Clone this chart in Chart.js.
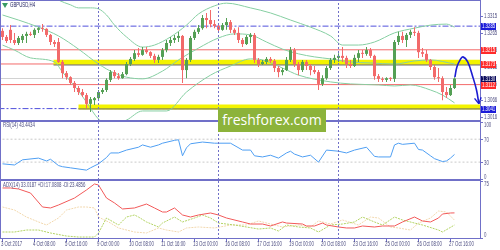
<!DOCTYPE html>
<html>
<head>
<meta charset="utf-8">
<title>GBPUSD,H4</title>
<script src="https://cdn.jsdelivr.net/npm/chart.js@4.4.1/dist/chart.umd.min.js"></script>
<style>
  html, body { margin: 0; padding: 0; background: #fff; }
  #wrap { position: relative; width: 500px; height: 250px; overflow: hidden; background: #fff; }
  canvas { position: absolute; left: 0; }
  #cPrice { top: 0; }
  #cRsi { top: 121px; }
  #cAdx { top: 180px; }
  #logo {
    position: absolute; left: 218px; top: 108px; width: 108px; height: 24px;
    background: #8cb33b; color: #fff; font: 14px "Open Sans", sans-serif;
    line-height: 24px; text-align: center;
  }
</style>
</head>
<body>
<div id="wrap">
  <canvas id="cPrice" width="500" height="121"></canvas>
  <canvas id="cRsi" width="500" height="59"></canvas>
  <canvas id="cAdx" width="500" height="70"></canvas>
  <div id="logo">freshforex.com</div>
</div>
<script>
"use strict";

// H4 candles, bar 0 = 3 Oct 2017 00:00 ... bar 113 = 27 Oct 20:00
const OPEN = [
  1.3271, 1.3253, 1.3274, 1.3244, 1.3235, 1.3244, 1.3256, 1.3262, 1.3259, 1.3274,
  1.3279, 1.3277, 1.3259, 1.3238, 1.3238, 1.3179, 1.3146, 1.3134, 1.3117, 1.3102,
  1.3090, 1.3081, 1.3055, 1.3066, 1.3072, 1.3090, 1.3096, 1.3126, 1.3149, 1.3137,
  1.3131, 1.3143, 1.3173, 1.3188, 1.3205, 1.3200, 1.3214, 1.3208, 1.3197, 1.3185,
  1.3194, 1.3214, 1.3235, 1.3244, 1.3250, 1.3256, 1.3155, 1.3185, 1.3250, 1.3268,
  1.3279, 1.3309, 1.3303, 1.3291, 1.3285, 1.3274, 1.3288, 1.3297, 1.3274, 1.3265,
  1.3244, 1.3232, 1.3253, 1.3259, 1.3185, 1.3173, 1.3179, 1.3188, 1.3182, 1.3161,
  1.3149, 1.3155, 1.3185, 1.3214, 1.3173, 1.3155, 1.3179, 1.3167, 1.3155, 1.3149,
  1.3114, 1.3131, 1.3161, 1.3185, 1.3191, 1.3197, 1.3191, 1.3173, 1.3167, 1.3191,
  1.3205, 1.3203, 1.3214, 1.3197, 1.3137, 1.3129, 1.3126, 1.3131, 1.3129, 1.3238,
  1.3256, 1.3244, 1.3259, 1.3268, 1.3265, 1.3208, 1.3203, 1.3185, 1.3164, 1.3134,
  1.3131, 1.3090, 1.3081, 1.3102,
];
const HIGH = [
  1.3279, 1.3259, 1.3288, 1.3265, 1.3256, 1.3262, 1.3268, 1.3268, 1.3279, 1.3282,
  1.3291, 1.3279, 1.3262, 1.3244, 1.3250, 1.3185, 1.3152, 1.3137, 1.3123, 1.3108,
  1.3099, 1.3087, 1.3075, 1.3075, 1.3096, 1.3102, 1.3131, 1.3155, 1.3155, 1.3146,
  1.3149, 1.3179, 1.3194, 1.3214, 1.3220, 1.3223, 1.3223, 1.3211, 1.3203, 1.3200,
  1.3220, 1.3244, 1.3253, 1.3259, 1.3268, 1.3259, 1.3191, 1.3256, 1.3274, 1.3288,
  1.3318, 1.3324, 1.3333, 1.3303, 1.3294, 1.3294, 1.3309, 1.3303, 1.3279, 1.3282,
  1.3250, 1.3259, 1.3265, 1.3265, 1.3191, 1.3185, 1.3194, 1.3194, 1.3188, 1.3167,
  1.3161, 1.3194, 1.3223, 1.3220, 1.3179, 1.3185, 1.3185, 1.3173, 1.3167, 1.3155,
  1.3140, 1.3167, 1.3191, 1.3200, 1.3205, 1.3223, 1.3197, 1.3185, 1.3200, 1.3214,
  1.3214, 1.3223, 1.3220, 1.3200, 1.3143, 1.3134, 1.3134, 1.3134, 1.3244, 1.3268,
  1.3268, 1.3265, 1.3274, 1.3282, 1.3271, 1.3220, 1.3214, 1.3188, 1.3170, 1.3161,
  1.3137, 1.3105, 1.3111, 1.3134,
];
const LOW = [
  1.3244, 1.3235, 1.3235, 1.3229, 1.3229, 1.3235, 1.3235, 1.3256, 1.3250, 1.3265,
  1.3268, 1.3253, 1.3229, 1.3223, 1.3176, 1.3131, 1.3126, 1.3111, 1.3090, 1.3081,
  1.3075, 1.3043, 1.3031, 1.3052, 1.3069, 1.3084, 1.3090, 1.3120, 1.3131, 1.3126,
  1.3129, 1.3140, 1.3167, 1.3182, 1.3194, 1.3197, 1.3203, 1.3191, 1.3176, 1.3176,
  1.3185, 1.3208, 1.3226, 1.3235, 1.3238, 1.3117, 1.3131, 1.3179, 1.3244, 1.3262,
  1.3274, 1.3279, 1.3282, 1.3279, 1.3268, 1.3271, 1.3274, 1.3265, 1.3259, 1.3235,
  1.3223, 1.3229, 1.3235, 1.3176, 1.3164, 1.3170, 1.3173, 1.3176, 1.3149, 1.3134,
  1.3140, 1.3152, 1.3179, 1.3164, 1.3140, 1.3149, 1.3155, 1.3140, 1.3143, 1.3096,
  1.3108, 1.3126, 1.3155, 1.3176, 1.3179, 1.3179, 1.3161, 1.3161, 1.3164, 1.3179,
  1.3191, 1.3197, 1.3191, 1.3126, 1.3120, 1.3120, 1.3120, 1.3123, 1.3120, 1.3229,
  1.3235, 1.3223, 1.3250, 1.3256, 1.3191, 1.3194, 1.3179, 1.3155, 1.3126, 1.3120,
  1.3066, 1.3072, 1.3078, 1.3099,
];
const CLOSE = [
  1.3253, 1.3241, 1.3244, 1.3235, 1.3250, 1.3256, 1.3262, 1.3259, 1.3274, 1.3279,
  1.3277, 1.3259, 1.3238, 1.3232, 1.3179, 1.3146, 1.3134, 1.3117, 1.3102, 1.3090,
  1.3081, 1.3055, 1.3069, 1.3072, 1.3090, 1.3096, 1.3126, 1.3149, 1.3137, 1.3131,
  1.3143, 1.3173, 1.3188, 1.3205, 1.3200, 1.3214, 1.3208, 1.3197, 1.3185, 1.3194,
  1.3214, 1.3235, 1.3244, 1.3250, 1.3256, 1.3155, 1.3185, 1.3250, 1.3268, 1.3279,
  1.3309, 1.3303, 1.3291, 1.3285, 1.3274, 1.3288, 1.3297, 1.3274, 1.3265, 1.3244,
  1.3232, 1.3253, 1.3259, 1.3185, 1.3173, 1.3179, 1.3188, 1.3182, 1.3161, 1.3149,
  1.3155, 1.3185, 1.3214, 1.3173, 1.3155, 1.3179, 1.3167, 1.3155, 1.3149, 1.3114,
  1.3131, 1.3161, 1.3185, 1.3191, 1.3197, 1.3191, 1.3173, 1.3167, 1.3191, 1.3205,
  1.3203, 1.3214, 1.3197, 1.3137, 1.3129, 1.3126, 1.3131, 1.3129, 1.3238, 1.3256,
  1.3244, 1.3259, 1.3268, 1.3265, 1.3208, 1.3203, 1.3185, 1.3164, 1.3134, 1.3131,
  1.3090, 1.3081, 1.3102, 1.3130,
];

// Bollinger bands, read at selected bars
const BB_UPPER_BARS = [12, 14, 17, 19, 22, 24, 26, 28, 31, 35, 38, 42, 46, 49, 53, 56, 62, 67, 72, 77, 82, 85, 89, 93, 98, 103, 107, 111, 113];
const BB_UPPER = [1.3377, 1.3362, 1.3348, 1.3339, 1.3339, 1.3336, 1.3318, 1.3288, 1.3253, 1.3223, 1.3229, 1.3253, 1.3288, 1.3321, 1.3345, 1.3353, 1.3339, 1.3324, 1.3303, 1.3282, 1.3256, 1.3229, 1.3229, 1.3238, 1.3265, 1.3279, 1.3288, 1.3291, 1.3282];
const BB_MID_BARS = [0, 4, 9, 14, 19, 24, 28, 31, 35, 40, 44, 49, 54, 58, 62, 66, 70, 74, 78, 82, 87, 92, 98, 103, 107, 113];
const BB_MID = [1.3318, 1.3303, 1.3282, 1.3256, 1.3217, 1.3173, 1.3146, 1.3134, 1.3129, 1.3152, 1.3185, 1.3220, 1.3250, 1.3262, 1.3259, 1.3238, 1.3217, 1.3203, 1.3194, 1.3188, 1.3179, 1.3176, 1.3173, 1.3182, 1.3185, 1.3173];
const BB_LOWER_BARS = [0, 3, 7, 13, 15, 19, 21, 24, 27, 31, 35, 41, 46, 52, 57, 62, 65, 70, 74, 82, 87, 94, 98, 102, 107, 110, 113];
const BB_LOWER = [1.3229, 1.3214, 1.3191, 1.3179, 1.3149, 1.3093, 1.3060, 1.3010, 1.2992, 1.3007, 1.3034, 1.3034, 1.3090, 1.3140, 1.3167, 1.3188, 1.3185, 1.3161, 1.3140, 1.3120, 1.3114, 1.3111, 1.3108, 1.3111, 1.3096, 1.3081, 1.3058];

// drawn levels
const RED_LEVELS = [1.3215, 1.3173, 1.3112];
const BLUE_LEVELS = [1.3285, 1.3041];
const BID = 1.3130;
const ZONE_LEVELS = [1.3178, 1.3046];
const ZONE_EDGES = [1.3170, 1.3040];
const ZONE_START_BARS = [12.75, 19];

// forecast arrow
const ARROW_BARS = [113.1, 113.6, 114.4, 115.1, 116.3, 117.6, 118.5, 119.1];
const ARROW_PRICES = [1.3134, 1.3164, 1.3185, 1.3194, 1.3179, 1.3134, 1.3096, 1.3055];

// axes
const PRICE_TICKS = [1.3315, 1.3265, 1.3215, 1.3165, 1.3115, 1.3066, 1.3016];
const PRICE_TAGS = [1.3285, 1.3215, 1.3173, 1.3130, 1.3112, 1.3041];
const WEEK_STARTS = [24, 54, 84];
const TIME_BARS = [0, 8, 16, 24, 32, 40, 48, 56, 64, 72, 80, 88, 96, 104, 112];
const TIME_LABELS = ["3 Oct 2017", "4 Oct 08:00", "5 Oct 16:00", "9 Oct 00:00", "10 Oct 08:00",
  "11 Oct 16:00", "13 Oct 00:00", "16 Oct 08:00", "17 Oct 16:00", "19 Oct 00:00",
  "20 Oct 08:00", "23 Oct 16:00", "25 Oct 00:00", "26 Oct 08:00", "27 Oct 16:00"];

// RSI(14)
const RSI_BARS = [0, 3, 5, 9, 11, 12, 14, 15, 17, 21, 22, 24, 26, 27, 29, 31, 34, 35, 37, 39, 40, 43, 44, 45, 46, 47, 50, 53, 57, 60, 62, 63, 65, 67, 69, 71, 72, 73, 75, 77, 79, 81, 84, 86, 88, 91, 93, 94, 97, 98, 99, 100, 103, 104, 105, 107, 108, 110, 111, 112, 113];
const RSI_VALUES = [27, 25, 34, 37, 32, 35, 24, 22, 20, 16, 20, 27, 38, 46, 46, 51, 56, 60, 56, 60, 63, 68, 69, 41, 55, 62, 65, 63, 63, 51, 51, 41, 39, 42, 37, 46, 49, 44, 39, 42, 30, 51, 49, 46, 51, 56, 40, 39, 39, 60, 63, 61, 63, 52, 51, 41, 36, 31, 32, 37, 43.44];
const RSI_LEVELS = [70, 30];
const RSI_TICKS = [100, 70, 30, 0];

// ADX(14)
const ADX_BARS = [0, 2, 4, 7, 10, 12, 14, 18, 21, 23, 24, 26, 28, 30, 33, 36, 38, 40, 41, 43, 45, 47, 49, 52, 54, 56, 60, 62, 65, 67, 70, 71, 75, 76, 78, 80, 81, 84, 86, 88, 90, 93, 95, 98, 100, 103, 105, 107, 109, 110, 112, 113];
const ADX_VALUES = [65.8, 65.8, 64.5, 59.2, 40.8, 39.5, 43.4, 52.6, 63.2, 71.1, 69.7, 52.6, 46.1, 38.2, 39.5, 44.7, 39.5, 34.2, 34.2, 39.5, 30.3, 27.6, 30.3, 32.9, 30.3, 26.3, 21.1, 18.4, 18.4, 15.8, 21.1, 19.7, 18.4, 15.8, 15.8, 19.7, 17.1, 14.5, 13.2, 13.2, 15.8, 14.5, 15.8, 15.8, 21.1, 27.6, 22.4, 21.1, 26.3, 31.6, 32.9, 33.02];
const PDI_BARS = [0, 3, 6, 9, 12, 16, 19, 23, 24, 26, 29, 31, 33, 34, 36, 39, 40, 43, 45, 48, 50, 52, 54, 58, 61, 64, 67, 69, 71, 74, 77, 79, 82, 85, 88, 90, 93, 95, 98, 100, 103, 105, 109, 110, 113];
const PDI_VALUES = [7.9, 7.9, 10.5, 10.5, 6.6, 2.6, 1.3, 1.3, 6.6, 26.3, 17.1, 27.6, 30.3, 27.6, 21.1, 14.5, 19.7, 27.6, 21.1, 26.3, 30.3, 26.3, 19.7, 17.1, 14.5, 11.8, 13.2, 9.2, 17.1, 14.5, 13.2, 7.9, 17.1, 18.4, 21.1, 27.6, 21.1, 17.1, 27.6, 23.7, 19.7, 17.1, 10.5, 7.9, 17.08];
const MDI_BARS = [0, 3, 6, 9, 11, 14, 16, 19, 21, 23, 24, 27, 29, 33, 36, 39, 41, 44, 46, 49, 53, 57, 61, 64, 68, 70, 74, 77, 79, 82, 85, 89, 92, 94, 97, 99, 102, 104, 107, 109, 111, 113];
const MDI_VALUES = [40.8, 36.8, 27.6, 21.1, 17.1, 26.3, 36.8, 40.8, 40.8, 39.5, 27.6, 19.7, 13.2, 7.9, 6.6, 13.2, 10.5, 7.9, 13.2, 14.5, 13.2, 17.1, 17.1, 22.4, 17.1, 14.5, 17.1, 14.5, 22.4, 18.4, 23.7, 17.1, 27.6, 26.3, 14.5, 13.2, 10.5, 19.7, 26.3, 35.5, 34.2, 23.49];
const ADX_TICKS = [75, 0];

// ---- look
const FRAME = "#7070c8";
const TXT = "#4e4e82";
const BULL = "#55a055";
const BEAR = "#f26a6a";
const BB_COLOR = "#86cfa2";
const RED_LINE = "#f36b6b";
const BLUE_LINE = "#5050dc";
const ZONE_COLOR = "#f3f300";
const ARROW_COLOR = "#1c1cd2";
const TAG_COLORS = ["#1d1dd9", "#ff2b2b", "#ff2b2b", "#0c0c5c", "#ff2b2b", "#1d1dd9"];
const FONT = '7px "Liberation Sans", Arial, sans-serif';
const SQUEEZE = 0.62;

// bar i sits at pixel 2.5 + 4*i
const X_MIN = -0.375, X_MAX = 119.375;
const PRICE_MIN = 1.30043, PRICE_MAX = 1.33623;
const RSI_MIN = -1.22, RSI_MAX = 101.74;
const ADX_MIN = -1.3, ADX_MAX = 76.3;

const pts = (xs, ys) => xs.map((x, i) => ({ x, y: ys[i] }));
const hline = (v, from) => [{ x: from == null ? -1 : from, y: v }, { x: 121, y: v }];

function tiny(ctx, text, x, y, color, align) {
  ctx.save();
  ctx.font = FONT;
  ctx.fillStyle = color;
  ctx.textAlign = align || "left";
  ctx.textBaseline = "middle";
  ctx.translate(x, y);
  ctx.scale(SQUEEZE, 1);
  ctx.fillText(text, 0, 0);
  ctx.restore();
}

function drawFrame(chart) {
  const { ctx, chartArea: a } = chart;
  ctx.save();
  ctx.fillStyle = FRAME;
  ctx.fillRect(0, a.top, a.right + 1, 1);
  ctx.fillRect(0, a.bottom - 1, a.right + 1, 1);
  ctx.fillRect(0, a.top, 1, a.bottom - a.top);
  ctx.fillRect(a.right, a.top, 1, a.bottom - a.top);
  ctx.restore();
}

function sepDataset(lo, hi) {
  return {
    type: "line",
    data: WEEK_STARTS.flatMap((b) => [{ x: b, y: lo }, { x: b, y: hi }, { x: b, y: null }]),
    borderColor: FRAME, borderWidth: 1, borderDash: [2, 2], spanGaps: false,
    pointRadius: 0, order: 1,
  };
}

function lineDataset(data, color, order, extra) {
  return Object.assign({ type: "line", data, borderColor: color, borderWidth: 1, pointRadius: 0, order }, extra || {});
}

function baseOptions(yMin, yMax, padBottom) {
  return {
    responsive: false, animation: false, devicePixelRatio: 1, events: [],
    layout: { padding: { left: 1, right: 20, top: 0, bottom: padBottom } },
    plugins: { legend: { display: false }, tooltip: { enabled: false } },
    elements: { point: { radius: 0 } },
    scales: {
      x: { type: "linear", min: X_MIN, max: X_MAX, display: false, offset: false },
      y: { type: "linear", min: yMin, max: yMax, display: false },
    },
  };
}

// ---- price panel
const candleColors = OPEN.map((o, i) => (CLOSE[i] >= o ? BULL : BEAR));
const priceDatasets = [
  lineDataset(pts(ARROW_BARS, ARROW_PRICES), ARROW_COLOR, 0, { borderWidth: 1.6, tension: 0.4, clip: false }),
  sepDataset(PRICE_MIN, PRICE_MAX),
  {
    type: "bar", data: OPEN.map((o, i) => ({ x: i, y: [o, CLOSE[i]] })),
    backgroundColor: candleColors, barThickness: 3, minBarLength: 1, grouped: false,
    borderWidth: 0, inflateAmount: 0, order: 2,
  },
  {
    type: "bar", data: HIGH.map((h, i) => ({ x: i, y: [LOW[i], h] })),
    backgroundColor: candleColors, barThickness: 1, grouped: false,
    borderWidth: 0, inflateAmount: 0, order: 3,
  },
  lineDataset(pts(BB_UPPER_BARS, BB_UPPER), BB_COLOR, 4, { cubicInterpolationMode: "monotone" }),
  lineDataset(pts(BB_MID_BARS, BB_MID), BB_COLOR, 4, { cubicInterpolationMode: "monotone" }),
  lineDataset(pts(BB_LOWER_BARS, BB_LOWER), BB_COLOR, 4, { cubicInterpolationMode: "monotone" }),
  ...ZONE_EDGES.map((v, i) => lineDataset(hline(v, ZONE_START_BARS[i]), "#6a6a6a", 5)),
  ...ZONE_LEVELS.map((v, i) => lineDataset(hline(v, ZONE_START_BARS[i]), ZONE_COLOR, 6, { borderWidth: 5 })),
  ...BLUE_LEVELS.map((v) => lineDataset(hline(v), BLUE_LINE, 7, { borderDash: [6, 2, 2, 2] })),
  ...RED_LEVELS.map((v) => lineDataset(hline(v), RED_LINE, 8)),
  lineDataset(hline(BID), "#d2d2d2", 9),
];

const pricePanel = {
  id: "pricePanel",
  afterDraw(chart) {
    const { ctx, chartArea: a } = chart;
    const y = chart.scales.y;
    drawFrame(chart);

    // arrow head at the end of the forecast curve
    const arrow = chart.getDatasetMeta(0).data;
    const p1 = arrow[arrow.length - 2], p2 = arrow[arrow.length - 1];
    const ang = Math.atan2(p2.y - p1.y, p2.x - p1.x);
    ctx.save();
    ctx.strokeStyle = ARROW_COLOR;
    ctx.lineWidth = 1.4;
    for (const s of [-1, 1]) {
      ctx.beginPath();
      ctx.moveTo(p2.x, p2.y);
      ctx.lineTo(p2.x - 7 * Math.cos(ang + s * 0.5), p2.y - 7 * Math.sin(ang + s * 0.5));
      ctx.stroke();
    }
    ctx.restore();

    ctx.save();
    ctx.fillStyle = FRAME;
    for (const v of PRICE_TICKS) {
      const py = Math.round(y.getPixelForValue(v));
      ctx.fillRect(a.right, py, 3, 1);
      tiny(ctx, v.toFixed(4), a.right + 4, py + 0.5, TXT);
    }
    PRICE_TAGS.forEach((v, i) => {
      const py = Math.round(y.getPixelForValue(v));
      ctx.fillStyle = TAG_COLORS[i];
      ctx.fillRect(a.right + 1, py - 3, 15, 7);
      tiny(ctx, v.toFixed(4), a.right + 2, py + 0.5, "#fff");
    });

    // symbol caption
    ctx.fillStyle = "#3a9a64";
    ctx.beginPath();
    ctx.moveTo(2, 3); ctx.lineTo(8, 3); ctx.lineTo(5, 8); ctx.closePath();
    ctx.fill();
    ctx.restore();
    tiny(ctx, "GBPUSD,H4", 10, 5.5, "#1e1e5e");
  },
};

new Chart(document.getElementById("cPrice"), {
  type: "bar",
  data: { datasets: priceDatasets },
  options: baseOptions(PRICE_MIN, PRICE_MAX, 0),
  plugins: [pricePanel],
});

// ---- RSI panel
function drawSideTicks(chart, ticks) {
  const { ctx, chartArea: a } = chart;
  const y = chart.scales.y;
  ctx.save();
  ctx.fillStyle = FRAME;
  ticks.forEach((v, i) => {
    const py = y.getPixelForValue(v);
    ctx.fillRect(a.right, Math.round(py), 3, 1);
    let ty = py + 0.5;
    if (i === 0) ty = py + 3;
    if (i === ticks.length - 1) ty = py - 2.5;
    tiny(ctx, String(v), a.right + 4, ty, TXT);
  });
  ctx.restore();
}

new Chart(document.getElementById("cRsi"), {
  type: "line",
  data: {
    datasets: [
      sepDataset(RSI_MIN, RSI_MAX),
      lineDataset(pts(RSI_BARS, RSI_VALUES), "#4f9ff3", 2),
      ...RSI_LEVELS.map((v) => lineDataset(hline(v), "#c9c9c9", 3, { borderDash: [2, 2] })),
    ],
  },
  options: baseOptions(RSI_MIN, RSI_MAX, 0),
  plugins: [{
    id: "rsiPanel",
    afterDraw(chart) {
      drawFrame(chart);
      drawSideTicks(chart, RSI_TICKS);
      tiny(chart.ctx, "RSI(14) 43.4434", 3, 4.5, TXT);
    },
  }],
});

// ---- ADX panel
new Chart(document.getElementById("cAdx"), {
  type: "line",
  data: {
    datasets: [
      sepDataset(ADX_MIN, ADX_MAX),
      lineDataset(pts(ADX_BARS, ADX_VALUES), "#f25a5a", 2),
      lineDataset(pts(PDI_BARS, PDI_VALUES), "#b3d363", 3, { borderDash: [2, 1] }),
      lineDataset(pts(MDI_BARS, MDI_VALUES), "#f2d8ae", 3, { borderDash: [2, 1] }),
    ],
  },
  options: baseOptions(ADX_MIN, ADX_MAX, 11),
  plugins: [{
    id: "adxPanel",
    afterDraw(chart) {
      const { ctx, chartArea: a } = chart;
      const x = chart.scales.x;
      drawFrame(chart);
      drawSideTicks(chart, ADX_TICKS);
      tiny(ctx, "ADX(14) 33.0187 +DI:17.0808 -DI:23.4856", 3, 5.5, TXT);
      ctx.save();
      ctx.fillStyle = FRAME;
      TIME_BARS.forEach((b, i) => {
        const px = x.getPixelForValue(b);
        ctx.fillRect(Math.floor(px), a.bottom, 1, 3);
        tiny(ctx, TIME_LABELS[i], px - 1.5, a.bottom + 5, TXT);
      });
      ctx.restore();
    },
  }],
});
</script>
</body>
</html>
